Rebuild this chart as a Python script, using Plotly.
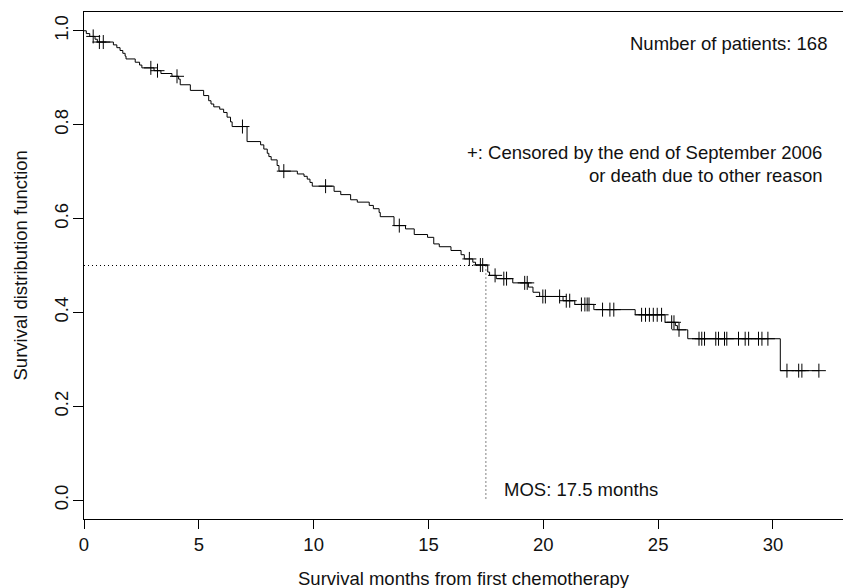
import plotly.graph_objects as go
import bisect

# ---- data (Kaplan-Meier curve) ----
step_times = [0.10, 0.25, 0.48, 0.58, 1.28, 1.43, 1.57, 1.69, 1.79, 1.83,
              2.23, 2.42, 2.52, 3.05, 3.35, 3.83, 4.12, 4.19, 4.63, 5.21,
              5.43, 5.53, 5.65, 5.91, 6.08, 6.23, 6.38, 6.45, 7.10, 7.69,
              7.83, 7.98, 8.05, 8.15, 8.41, 8.49, 9.29, 9.58, 9.72, 9.84,
              9.94, 10.89, 11.18, 11.61, 11.90, 12.42, 12.60, 12.85, 12.90, 13.50,
              14.00, 14.38, 14.96, 15.23, 15.47, 15.98, 16.42, 16.56, 16.93, 17.05,
              17.58, 17.66, 17.95, 18.67, 19.35, 19.55, 19.84, 20.86, 21.37, 22.20,
              24.00, 25.30, 25.75, 25.84, 26.29, 30.32]
step_surv = [0.994, 0.988, 0.982, 0.976, 0.970, 0.964, 0.958, 0.952, 0.946, 0.940,
             0.933, 0.927, 0.921, 0.915, 0.909, 0.903, 0.897, 0.885, 0.873, 0.862,
             0.851, 0.844, 0.838, 0.833, 0.826, 0.816, 0.806, 0.796, 0.764, 0.757,
             0.748, 0.739, 0.732, 0.725, 0.713, 0.701, 0.695, 0.690, 0.684, 0.677,
             0.669, 0.658, 0.651, 0.640, 0.635, 0.628, 0.621, 0.613, 0.604, 0.585,
             0.578, 0.566, 0.560, 0.546, 0.540, 0.532, 0.523, 0.514, 0.507, 0.501,
             0.486, 0.479, 0.472, 0.463, 0.454, 0.443, 0.434, 0.425, 0.417, 0.406,
             0.395, 0.379, 0.372, 0.363, 0.344, 0.276]
censor_times = [0.40, 0.67, 0.84, 2.91, 3.20, 4.05, 6.90, 8.70, 10.52, 13.73,
                16.78, 17.26, 17.36, 17.90, 18.28, 18.40, 19.19, 19.30, 19.98, 20.09,
                20.71, 21.00, 21.15, 21.66, 21.81, 21.91, 21.99, 22.58, 22.90, 23.07,
                24.28, 24.45, 24.62, 24.79, 24.96, 25.15, 25.59, 25.69, 25.91, 26.78,
                26.90, 27.02, 27.51, 27.63, 27.89, 27.99, 28.50, 28.79, 28.94, 29.37,
                29.52, 29.78, 30.61, 31.12, 31.26, 32.00]
end_time = 32.00
median_survival = 17.5
n_patients = 168

x_ticks = [0, 5, 10, 15, 20, 25, 30]
y_ticks = [0.0, 0.2, 0.4, 0.6, 0.8, 1.0]


def surv_at(t):
    i = bisect.bisect_right(step_times, t)
    return 1.0 if i == 0 else step_surv[i - 1]


line_x = [0.0] + step_times + [end_time]
line_y = [1.0] + step_surv + [step_surv[-1]]
cens_y = [surv_at(t) for t in censor_times]

FONT = "Liberation Sans, Arial, Helvetica, sans-serif"
FS = 18.5
TXT = "#111"

fig = go.Figure()
fig.add_trace(go.Scatter(x=line_x, y=line_y, mode="lines", line_shape="hv",
                         line=dict(color="black", width=1), hoverinfo="skip"))
fig.add_trace(go.Scatter(x=censor_times, y=cens_y, mode="markers",
                         marker=dict(symbol="cross-thin", size=10,
                                     line=dict(color="black", width=1)),
                         hoverinfo="skip"))
# median dotted guides
fig.add_trace(go.Scatter(x=[0, median_survival], y=[0.5, 0.5], mode="lines",
                         line=dict(color="black", width=1, dash="1px,3px"), hoverinfo="skip"))
fig.add_trace(go.Scatter(x=[median_survival, median_survival], y=[0.5, 0.0], mode="lines",
                         line=dict(color="black", width=1, dash="1px,3px"), hoverinfo="skip"))

annos = [
    dict(x=32.43, y=0.972, text=f"Number of patients: {n_patients}", xanchor="right"),
    dict(x=32.22, y=0.741, text="+: Censored by the end of September 2006", xanchor="right"),
    dict(x=32.22, y=0.692, text="or death due to other reason", xanchor="right"),
    dict(x=18.2, y=0.023, text=f"MOS: {median_survival} months", xanchor="left"),
]
for a in annos:
    fig.add_annotation(xref="x", yref="y", showarrow=False, yanchor="middle",
                       font=dict(family=FONT, size=FS, color=TXT), **a)

# axis titles
fig.add_annotation(xref="paper", yref="paper", x=0.5, y=0, yshift=-59,
                   xanchor="center", yanchor="middle", showarrow=False,
                   text="Survival months from first chemotherapy",
                   font=dict(family=FONT, size=FS, color=TXT))
fig.add_annotation(xref="paper", yref="paper", x=0, y=0.5, xshift=-64,
                   xanchor="center", yanchor="middle", showarrow=False, textangle=-90,
                   text="Survival distribution function",
                   font=dict(family=FONT, size=FS, color=TXT))

fig.update_layout(
    width=843, height=588,
    margin=dict(l=84, r=0, t=12, b=69),
    paper_bgcolor="white", plot_bgcolor="white",
    showlegend=False,
    font=dict(family=FONT, size=FS, color=TXT),
)
fig.update_xaxes(range=[0, 33.05], tickvals=x_ticks, ticks="outside", ticklen=9,
                 tickcolor="black", showline=True, linecolor="black", linewidth=1,
                 mirror=True, showgrid=False, zeroline=False, automargin=False,
                 ticklabelstandoff=0,
                 tickfont=dict(family=FONT, size=FS, color=TXT))
fig.update_yaxes(range=[-0.04, 1.04], tickvals=y_ticks, tickformat=".1f", ticks="outside",
                 ticklen=10, tickcolor="black", tickangle=-90, showline=True,
                 linecolor="black", linewidth=1, mirror=False, showgrid=False,
                 zeroline=False, automargin=False, ticklabelstandoff=-2,
                 tickfont=dict(family=FONT, size=FS, color=TXT))

fig.write_html("out.html", config={"displayModeBar": False},
               post_script="document.body.style.margin='0';document.body.style.overflow='hidden';")
